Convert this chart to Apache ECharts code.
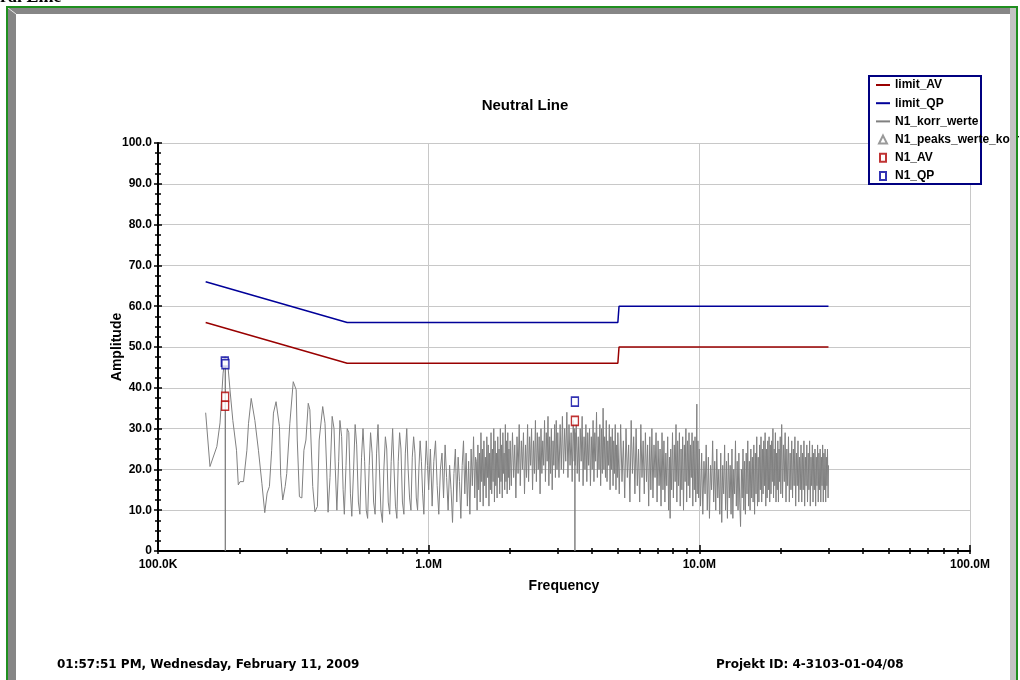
<!DOCTYPE html>
<html>
<head>
<meta charset="utf-8">
<title>Neutral Line</title>
<script src="https://cdn.jsdelivr.net/npm/echarts@6/dist/echarts.min.js"></script>
<style>
html, body { margin: 0; padding: 0; background: #fff; }
#chart { width: 1020px; height: 680px; }
</style>
</head>
<body>
<div id="chart"></div>
<script>
var chartTitle = 'Neutral Line';
var footerLeft = '01:57:51 PM, Wednesday, February 11, 2009';
var footerRight = 'Projekt ID: 4-3103-01-04/08';
var xAxisName = 'Frequency';
var yAxisName = 'Amplitude';
var seriesNames = ['limit_AV', 'limit_QP', 'N1_korr_werte', 'N1_peaks_werte_korr', 'N1_AV', 'N1_QP'];

// frequency in kHz, level in dBuV
var freqMin = 100, freqMax = 100000;
var ampMin = 0, ampMax = 100, ampStep = 10;

var limitAV = [[150, 56], [500, 46], [5000, 46], [5050, 50], [30000, 50]];
var limitQP = [[150, 66], [500, 56], [5000, 56], [5050, 60], [30000, 60]];
var peaksKorr = [];
var avPoints = [[177, 37.8], [177, 35.6], [3470, 31.9]];
var qpPoints = [[176.5, 46.4], [177.5, 45.8], [3470, 36.6]];

// measured trace, 150 kHz - 1 MHz
var korrLow = [
  [150, 33.9], [155.6, 20.7], [158, 20.3], [165, 25.6], [169.5, 31.4], [174, 43.6], [177, 47.6], [177.3, 0], [177.6, 46.5],
  [181, 46], [184.5, 39.5], [189, 32], [195, 24.7], [198, 16.2], [201, 17], [207, 17], [213, 24.7], [216, 31.3],
  [221, 37.4], [228, 32], [235, 24.7], [242, 16.6], [248, 9.4], [253, 14.2], [258, 15.8], [263, 24.7], [267, 33.8],
  [273, 36.6], [281, 30.5], [284, 18.6], [289, 12.5], [295, 15.8], [299, 19], [307, 31.3], [316, 41.5], [324, 39.5],
  [327, 27.2], [333, 13.3], [340, 13], [346, 24.7], [352, 27.2], [359, 36.2], [364, 34.6], [373, 15.8], [380, 9.6],
  [388, 10.9], [394, 27.2], [406, 35.4], [414, 31.3], [420, 20], [425, 9.5], [432, 18], [440, 33], [447, 30],
  [452, 20], [458, 10], [465, 22], [470, 32], [477, 28], [483, 15], [488, 9], [495, 21], [500, 30], [507, 29],
  [514, 14], [520, 8.5], [528, 20], [535, 31], [542, 26], [550, 12], [557, 9], [565, 23], [572, 30], [580, 22],
  [588, 10], [595, 8], [603, 21], [610, 29], [618, 24], [626, 12], [634, 9], [642, 24], [650, 31], [658, 20],
  [666, 10], [675, 7], [683, 20], [692, 28], [700, 25], [709, 12], [718, 9], [727, 22], [736, 30], [745, 20],
  [754, 11], [763, 8], [772, 22], [781, 29], [790, 25], [800, 12], [810, 9], [820, 24], [830, 30], [840, 20],
  [850, 13], [860, 10], [870, 23], [880, 28], [890, 24], [900, 13], [910, 10], [920, 20], [930, 27], [940, 22],
  [950, 14], [960, 9], [970, 20], [980, 27], [990, 21]
];

// measured trace, 1 MHz - 5 MHz
var korrMid = [
  [1000, 15], [1015, 25], [1030, 11], [1045, 22], [1060, 27], [1075, 16], [1090, 9], [1105, 20], [1120, 24], [1135, 13],
  [1150, 26], [1165, 18], [1180, 10], [1195, 21], [1210, 15], [1225, 7], [1240, 19], [1255, 25], [1270, 12], [1285, 23],
  [1300, 17], [1315, 8], [1330, 21], [1345, 27], [1360, 14], [1375, 24], [1390, 11], [1405, 22], [1420, 9], [1435, 25],
  [1450, 16], [1465, 28], [1480, 13], [1490, 23],
  [1500, 22], [1510, 10], [1520, 26], [1530, 15], [1540, 24], [1550, 12], [1560, 29], [1570, 17], [1580, 25], [1590, 11],
  [1600, 27], [1610, 16], [1620, 23], [1630, 13], [1640, 28], [1650, 18], [1660, 26], [1670, 11], [1680, 24], [1690, 15],
  [1700, 29], [1710, 14], [1720, 25], [1730, 17], [1740, 30], [1750, 12], [1760, 27], [1770, 16], [1780, 24], [1790, 13],
  [1800, 28], [1810, 18], [1820, 25], [1830, 14], [1840, 30], [1850, 17], [1860, 26], [1870, 13], [1880, 29], [1890, 19],
  [1900, 24], [1910, 15], [1920, 31], [1930, 17], [1940, 27], [1950, 14], [1960, 29], [1970, 18], [1980, 25], [1990, 15],
  [2000, 27], [2020, 16], [2040, 29], [2060, 18], [2080, 26], [2100, 13], [2120, 28], [2140, 19], [2160, 31], [2180, 16],
  [2200, 27], [2220, 20], [2240, 29], [2260, 14], [2280, 26], [2300, 18], [2320, 31], [2340, 17], [2360, 28], [2380, 21],
  [2400, 30], [2420, 15], [2440, 27], [2460, 19], [2480, 32], [2500, 17], [2520, 29], [2540, 20], [2560, 28], [2580, 14],
  [2600, 30], [2620, 19], [2640, 27], [2660, 21], [2680, 32], [2700, 17], [2720, 29], [2740, 22], [2760, 33], [2780, 16],
  [2800, 28], [2820, 19], [2840, 30], [2860, 15], [2880, 27], [2900, 21], [2920, 31], [2940, 18], [2960, 32], [2980, 20],
  [3000, 29], [3030, 18], [3060, 31], [3090, 20], [3120, 33], [3150, 19], [3180, 30], [3210, 22], [3240, 34], [3270, 18],
  [3300, 31], [3330, 21], [3360, 29], [3390, 17], [3420, 32], [3450, 22], [3465, 30], [3470, 0], [3475, 29], [3480, 21],
  [3510, 31], [3540, 19], [3570, 28], [3600, 17], [3630, 30], [3660, 22], [3690, 33], [3720, 16], [3750, 28], [3780, 20],
  [3810, 31], [3840, 17], [3870, 29], [3900, 21], [3930, 30], [3960, 16], [3990, 28], [4020, 20], [4050, 32], [4080, 17],
  [4110, 29], [4140, 22], [4170, 34], [4200, 18], [4230, 28], [4260, 20], [4290, 31], [4320, 16], [4350, 30], [4380, 19],
  [4410, 35], [4440, 20], [4470, 28], [4500, 18], [4530, 32], [4560, 17], [4590, 27], [4620, 21], [4650, 31], [4680, 15],
  [4710, 28], [4740, 20], [4770, 30], [4800, 16], [4830, 27], [4860, 19], [4890, 31], [4920, 15], [4950, 26], [4980, 18]
];

// measured trace, 5 MHz - 30 MHz
var korrHigh = [
  [5000, 29], [5060, 14], [5120, 31], [5180, 17], [5240, 27], [5300, 13], [5360, 30], [5420, 18], [5480, 26], [5540, 12],
  [5600, 32], [5660, 19], [5720, 28], [5780, 14], [5840, 30], [5900, 16], [5960, 25], [6020, 12], [6080, 31], [6140, 18],
  [6200, 27], [6260, 14], [6320, 29], [6380, 17], [6440, 26], [6500, 11], [6560, 28], [6620, 15], [6680, 30], [6740, 13],
  [6800, 26], [6860, 18], [6920, 29], [6980, 12], [7040, 27], [7100, 16], [7160, 25], [7220, 11], [7280, 29], [7340, 15],
  [7400, 27], [7460, 12], [7520, 24], [7580, 16], [7640, 28], [7700, 10], [7760, 23], [7800, 8], [7840, 25], [7900, 15],
  [7960, 29], [8020, 13], [8080, 26], [8140, 17], [8200, 31], [8260, 12], [8320, 27], [8380, 16], [8440, 29], [8500, 11],
  [8560, 25], [8620, 15], [8680, 28], [8740, 10], [8800, 26], [8860, 17], [8920, 30], [8980, 12], [9040, 27], [9100, 16],
  [9160, 29], [9220, 13], [9280, 26], [9340, 18], [9400, 29], [9460, 11], [9520, 27], [9580, 15], [9640, 28], [9700, 12],
  [9760, 26], [9790, 36], [9820, 14], [9880, 27], [9940, 13],
  [10000, 25], [10100, 11], [10200, 24], [10300, 9], [10400, 22], [10500, 14], [10600, 26], [10700, 10], [10800, 23], [10900, 8],
  [11000, 21], [11100, 15], [11200, 27], [11300, 12], [11400, 22], [11500, 10], [11600, 25], [11700, 13], [11800, 20], [11900, 9],
  [12000, 24], [12100, 7], [12200, 21], [12300, 14], [12400, 26], [12500, 10], [12600, 22], [12700, 8], [12800, 24], [12900, 13],
  [13000, 21], [13100, 9], [13200, 25], [13300, 8], [13400, 20], [13500, 14], [13600, 27], [13700, 11], [13800, 22], [13900, 10],
  [14000, 24], [14100, 12], [14200, 6], [14300, 20], [14400, 13], [14500, 25], [14600, 10], [14700, 22], [14800, 9], [14900, 24],
  [15000, 14], [15100, 27], [15200, 11], [15300, 22], [15400, 10], [15500, 25], [15600, 13], [15700, 23], [15800, 12], [15900, 26],
  [16000, 9], [16100, 24], [16200, 14], [16300, 28], [16400, 11], [16500, 23], [16600, 12], [16700, 26], [16800, 15], [16900, 28],
  [17000, 12], [17100, 25], [17200, 14], [17300, 27], [17400, 16], [17500, 29], [17600, 11], [17700, 25], [17800, 13], [17900, 27],
  [18000, 15], [18100, 28], [18200, 12], [18300, 26], [18400, 14], [18500, 27], [18600, 17], [18700, 30], [18800, 13], [18900, 25],
  [19000, 16], [19100, 29], [19200, 12], [19300, 24], [19400, 15], [19500, 27], [19600, 12], [19700, 25], [19800, 17], [19900, 28],
  [20000, 14], [20150, 31], [20300, 13], [20450, 26], [20600, 17], [20750, 29], [20900, 12], [21050, 25], [21200, 16], [21350, 28],
  [21500, 12], [21650, 24], [21800, 15], [21950, 27], [22100, 13], [22250, 25], [22400, 16], [22550, 28], [22700, 11], [22850, 24],
  [23000, 16], [23150, 27], [23300, 12], [23450, 23], [23600, 15], [23750, 26], [23900, 12], [24050, 24], [24200, 15], [24350, 27],
  [24500, 11], [24650, 23], [24800, 16], [24950, 26], [25100, 12], [25250, 24], [25400, 15], [25550, 27], [25700, 11], [25850, 23],
  [26000, 16], [26150, 26], [26300, 12], [26450, 24], [26600, 15], [26750, 25], [26900, 11], [27050, 23], [27200, 16], [27350, 26],
  [27500, 12], [27650, 24], [27800, 15], [27950, 25], [28100, 12], [28250, 23], [28400, 16], [28550, 26], [28700, 12], [28850, 24],
  [29000, 15], [29150, 25], [29300, 12], [29450, 23], [29600, 16], [29750, 25], [29900, 13], [30000, 21]
];

var korrWerte = korrLow.concat(korrMid, korrHigh);

var boldFont = 'Liberation Sans, Arial, sans-serif';
var footFont = 'bold 12px "DejaVu Sans", Verdana, sans-serif';

function freqLabel(v) {
  if (v >= 1000) return (v / 1000).toFixed(1) + 'M';
  return v.toFixed(1) + 'K';
}
function ampLabel(v) {
  return v === 0 ? '0' : v.toFixed(1);
}

var myChart = echarts.init(document.getElementById('chart'));

var tickLine = { color: '#000', width: 1.5 };
var lineIcon = 'path://M0,0L14,0L14,2L0,2Z';
var rectIcon = 'path://M0,0L6,0L6,8L0,8Z';

option = {
  backgroundColor: '#fff',
  animation: false,
  grid: { left: 158, right: 50, top: 143, bottom: 129 },
  legend: {
    orient: 'vertical',
    left: 876,
    top: 78,
    padding: 0,
    itemWidth: 14,
    itemHeight: 8,
    itemGap: 4.2,
    z: 6,
    textStyle: { fontFamily: boldFont, fontWeight: 'bold', fontSize: 12, color: '#000', lineHeight: 14 },
    data: [
      { name: seriesNames[0], icon: lineIcon },
      { name: seriesNames[1], icon: lineIcon },
      { name: seriesNames[2], icon: lineIcon },
      { name: seriesNames[3], icon: 'path://M4,0L8,8L0,8Z' },
      { name: seriesNames[4], icon: rectIcon },
      { name: seriesNames[5], icon: rectIcon }
    ]
  },
  xAxis: [
    {
      type: 'log', logBase: 10, min: freqMin, max: freqMax, position: 'bottom', offset: 0,
      name: xAxisName, nameLocation: 'middle', nameGap: 28, nameMoveOverlap: false,
      nameTextStyle: { fontFamily: boldFont, fontWeight: 'bold', fontSize: 14, color: '#000' },
      axisLine: { lineStyle: { color: '#000', width: 2 } },
      axisTick: { inside: false, length: 3, lineStyle: tickLine },
      minorTick: { show: true, splitNumber: 9, length: 3, lineStyle: tickLine },
      axisLabel: { formatter: freqLabel, margin: 8, fontFamily: boldFont, fontWeight: 'bold', fontSize: 12, color: '#000' },
      splitLine: { show: true, lineStyle: { color: '#c8c8c8', width: 1 } },
      minorSplitLine: { show: false }
    },
    {
      type: 'log', logBase: 10, min: freqMin, max: freqMax, position: 'bottom', offset: 0,
      axisLine: { show: false },
      axisTick: { inside: true, length: 6, lineStyle: tickLine },
      minorTick: { show: true, splitNumber: 9, length: 3, lineStyle: tickLine },
      axisLabel: { show: false },
      splitLine: { show: false }
    }
  ],
  yAxis: [
    {
      type: 'value', min: ampMin, max: ampMax, interval: ampStep, position: 'left', offset: 0,
      name: yAxisName, nameLocation: 'middle', nameGap: 34, nameMoveOverlap: false,
      nameTextStyle: { fontFamily: boldFont, fontWeight: 'bold', fontSize: 14, color: '#000' },
      axisLine: { show: true, lineStyle: { color: '#000', width: 2 } },
      axisTick: { show: true, inside: false, length: 4, lineStyle: tickLine },
      minorTick: { show: true, splitNumber: 4, length: 3, lineStyle: tickLine },
      axisLabel: { formatter: ampLabel, margin: 6, fontFamily: boldFont, fontWeight: 'bold', fontSize: 12, color: '#000' },
      splitLine: { show: true, lineStyle: { color: '#c8c8c8', width: 1 } }
    },
    {
      type: 'value', min: ampMin, max: ampMax, interval: ampStep, position: 'left', offset: 0,
      axisLine: { show: false },
      axisTick: { show: true, inside: true, length: 4, lineStyle: tickLine },
      minorTick: { show: true, splitNumber: 4, length: 3, lineStyle: tickLine },
      axisLabel: { show: false },
      splitLine: { show: false }
    }
  ],
  graphic: [
    // cut-off page heading
    { type: 'text', x: -37, y: -12, z: 10, style: { text: chartTitle, font: 'bold 18px "Liberation Serif", serif', fill: '#000', verticalAlign: 'top' } },
    // chart title
    { type: 'text', x: 525, y: 106, style: { text: chartTitle, font: 'bold 15px ' + boldFont, fill: '#000', align: 'center', verticalAlign: 'middle' } },
    // legend box
    { type: 'rect', z: 3, shape: { x: 869, y: 76, width: 112, height: 108 }, style: { fill: '#fff', stroke: '#000080', lineWidth: 2 } },
    // footer
    { type: 'text', x: 57, y: 665, style: { text: footerLeft, font: footFont, fill: '#000', verticalAlign: 'middle' } },
    { type: 'text', x: 716, y: 665, style: { text: footerRight, font: footFont, fill: '#000', verticalAlign: 'middle' } },
    // frame
    { type: 'rect', z: 20, shape: { x: 8, y: 8, width: 1002, height: 6 }, style: { fill: '#868686' } },
    { type: 'rect', z: 20, shape: { x: 8, y: 8, width: 8, height: 672 }, style: { fill: '#868686' } },
    { type: 'rect', z: 20, shape: { x: 1010, y: 8, width: 6, height: 672 }, style: { fill: '#c4c4c4' } },
    { type: 'line', z: 21, shape: { x1: 8, y1: 8, x2: 16, y2: 14 }, style: { stroke: '#e8e8e8', lineWidth: 1 } },
    { type: 'rect', z: 22, shape: { x: 6, y: 6, width: 1012, height: 2 }, style: { fill: '#1f8f1f' } },
    { type: 'rect', z: 22, shape: { x: 6, y: 6, width: 2, height: 674 }, style: { fill: '#1f8f1f' } },
    { type: 'rect', z: 22, shape: { x: 1016, y: 6, width: 2, height: 674 }, style: { fill: '#1f8f1f' } }
  ],
  series: [
    {
      name: seriesNames[0], type: 'line', data: limitAV, symbol: 'none', z: 3,
      lineStyle: { color: '#990000', width: 1.5 }, itemStyle: { color: '#990000' }
    },
    {
      name: seriesNames[1], type: 'line', data: limitQP, symbol: 'none', z: 3,
      lineStyle: { color: '#000099', width: 1.5 }, itemStyle: { color: '#000099' }
    },
    {
      name: seriesNames[2], type: 'line', data: korrWerte, symbol: 'none', z: 2,
      lineStyle: { color: '#808080', width: 1 }, itemStyle: { color: '#808080' }
    },
    {
      name: seriesNames[3], type: 'scatter', data: peaksKorr, symbol: 'triangle', symbolSize: 8, z: 4,
      itemStyle: { color: '#fff', borderColor: '#808080', borderWidth: 1 }
    },
    {
      name: seriesNames[4], type: 'scatter', data: avPoints, symbol: 'rect', symbolSize: [7, 9], z: 5,
      itemStyle: { color: '#fff', borderColor: '#b00000', borderWidth: 1.5 }
    },
    {
      name: seriesNames[5], type: 'scatter', data: qpPoints, symbol: 'rect', symbolSize: [7, 9], z: 5,
      itemStyle: { color: '#fff', borderColor: '#0000a0', borderWidth: 1.5 }
    }
  ]
};

myChart.setOption(option);
</script>
</body>
</html>
